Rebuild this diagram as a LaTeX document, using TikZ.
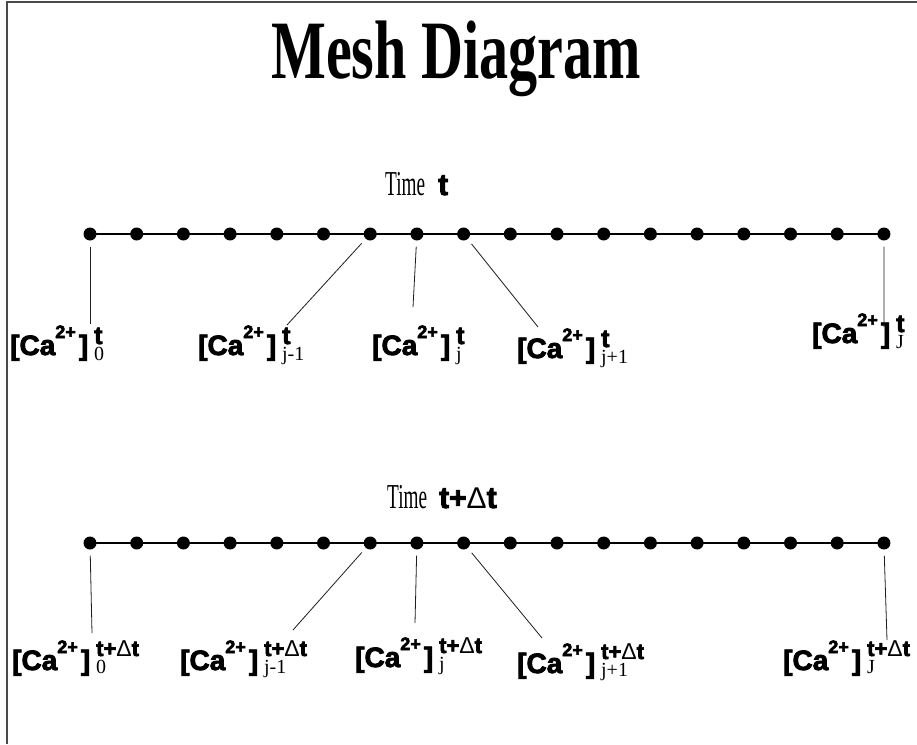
\documentclass[tikz,border=0pt]{standalone}
\usepackage{fontspec}
\setmainfont{Liberation Serif}
\newfontfamily\labsans{Liberation Sans}[BoldFeatures={FakeBold=3}]
\newfontfamily\deltasans{Liberation Sans}
\usetikzlibrary{positioning, calc}
\definecolor{cFrame}{HTML}{4A4A4A}
\definecolor{cLink}{HTML}{1E1E1E}

\newcommand{\tsup}{{\fontsize{25}{25}\labsans\bfseries t}}
\newcommand{\dtsup}{{\fontsize{22}{22}\labsans\bfseries t+}{\fontsize{23}{23}\deltasans Δ}{\fontsize{22}{22}\labsans\bfseries t}}
\newcommand{\caconc}[4]{%
  {\fontsize{28}{30}\labsans\bfseries [Ca\raisebox{17pt}{\fontsize{18}{20}\selectfont 2+}\hspace{3pt}]}%
  \hspace{6pt}%
  \rlap{\raisebox{#3}{#1}}%
  \raisebox{#4}{\fontsize{20}{22}\selectfont #2}}

\tikzset{
  meshdot/.style={circle, fill=black, inner sep=0pt, minimum size=13pt},
  meshline/.style={line width=1.2pt, draw=black},
  calink/.style={line width=0.8pt, draw=cLink, shorten <=6pt},
  calabel/.style={anchor=base west, inner sep=0pt}
}

\begin{document}
\begin{tikzpicture}[x=1pt, y=-1pt]
    \useasboundingbox (0,0) rectangle (917,744);
    \fill[white] (0,0) rectangle (917,744);
    \draw[cFrame, line width=1.6pt] (7,744) -- (7,2) -- (917,2);

    \node[anchor=base, inner sep=0pt] (title) at (456,78)
      {\scalebox{0.7}[1]{\fontsize{83}{90}\selectfont\bfseries Mesh Diagram}};

    \node[calabel] (timet) at (385,195)
      {\scalebox{0.55}[1]{\fontsize{35}{40}\selectfont Time}\hspace{13pt}{\fontsize{30}{30}\labsans\bfseries t}};
    \node[calabel] (timedt) at (387,508)
      {\scalebox{0.55}[1]{\fontsize{35}{40}\selectfont Time}\hspace{12pt}{\fontsize{30}{30}\labsans\bfseries t+}{\fontsize{30}{30}\deltasans Δ}{\fontsize{30}{30}\labsans\bfseries t}};

    \foreach \i in {0,...,17}{
      \pgfmathsetmacro{\xpos}{90 + \i*46.7}
      \node[meshdot] (t\i) at (\xpos, 234) {};
      \node[meshdot] (b\i) at (\xpos, 543) {};
    }
    \draw[meshline] (t0.center) -- (t17.center);
    \draw[meshline] (b0.center) -- (b17.center);

    \node[calabel] (lt0)  at (10,355)  {\caconc{\tsup}{0}{11pt}{-5pt}};
    \node[calabel] (ltjm) at (198,355) {\caconc{\tsup}{j-1}{11pt}{-5pt}};
    \node[calabel] (ltj)  at (372,355) {\caconc{\tsup}{j}{11pt}{-5pt}};
    \node[calabel] (ltjp) at (517,358) {\caconc{\tsup}{j+1}{11pt}{-5pt}};
    \node[calabel] (ltJ)  at (812,343) {\caconc{\tsup}{J}{11pt}{-5pt}};

    \node[calabel] (lb0)  at (12,670)  {\caconc{\dtsup}{0}{14pt}{-3pt}};
    \node[calabel] (lbjm) at (180,670) {\caconc{\dtsup}{j-1}{14pt}{-3pt}};
    \node[calabel] (lbj)  at (355,667) {\caconc{\dtsup}{j}{14pt}{-3pt}};
    \node[calabel] (lbjp) at (517,673) {\caconc{\dtsup}{j+1}{14pt}{-3pt}};
    \node[calabel] (lbJ)  at (783,670) {\caconc{\dtsup}{J}{14pt}{-3pt}};

    \coordinate (et0)  at (90,324);
    \coordinate (etjm) at (287,325);
    \coordinate (etj)  at (413,307);
    \coordinate (etjp) at (538,327);
    \coordinate (etJ)  at (884,327);
    \coordinate (eb0)  at (92,633);
    \coordinate (ebjm) at (293,630);
    \coordinate (ebj)  at (415,623);
    \coordinate (ebjp) at (542,638);
    \coordinate (ebJ)  at (887,640);

    \foreach \d/\e in {t0/et0, t6/etjm, t7/etj, t8/etjp, t17/etJ,
                       b0/eb0, b6/ebjm, b7/ebj, b8/ebjp, b17/ebJ}{
      \draw[calink] (\d) -- (\e);
    }
\end{tikzpicture}
\end{document}
